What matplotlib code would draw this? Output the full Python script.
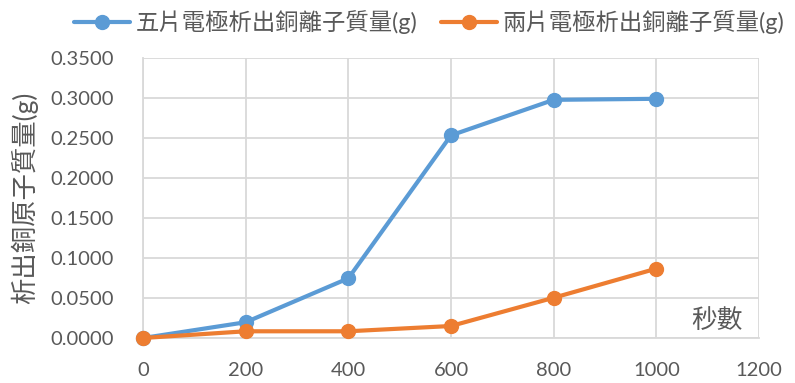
import matplotlib
matplotlib.use("Agg")
import matplotlib.pyplot as plt

plt.rcParams['font.family'] = ['Lato', 'Noto Sans CJK TC', 'DejaVu Sans']

seconds = [0, 200, 400, 600, 800, 1000]
five_plates = [0.0, 0.0197, 0.0746, 0.2533, 0.2977, 0.2990]
two_plates = [0.0, 0.0084, 0.0084, 0.0150, 0.0503, 0.0867]
series_names = ['五片電極析出銅離子質量(g)', '兩片電極析出銅離子質量(g)']
x_ticks = [0, 200, 400, 600, 800, 1000, 1200]
y_ticks = [0.0, 0.05, 0.10, 0.15, 0.20, 0.25, 0.30, 0.35]

blue = '#5B9BD5'
orange = '#ED7D31'
text_col = '#595959'
grid_col = '#D9D9D9'

fig = plt.figure(figsize=(7.95, 3.83), dpi=100)
ax = fig.add_axes([143 / 795, 1 - 338 / 383, (759 - 143) / 795, (338 - 58) / 383])

l1, = ax.plot(seconds, five_plates, color=blue, lw=3, marker='o', ms=10,
              solid_capstyle='round', zorder=3, clip_on=False)
l2, = ax.plot(seconds, two_plates, color=orange, lw=3, marker='o', ms=10,
              solid_capstyle='round', zorder=3, clip_on=False)

ax.set_xlim(0, 1200)
ax.set_ylim(0, 0.35)
ax.set_xticks(x_ticks)
ax.set_yticks(y_ticks)
ax.set_yticklabels([f'{v:.4f}' for v in y_ticks])
ax.grid(True, color=grid_col, lw=1.3, zorder=0)
ax.set_axisbelow(True)
for s in ['top', 'right']:
    ax.spines[s].set_visible(False)
for s in ['left', 'bottom']:
    ax.spines[s].set_color(grid_col)
    ax.spines[s].set_linewidth(1.3)
ax.tick_params(length=0, labelsize=14.5, colors=text_col)
ax.tick_params(axis='y', pad=21)
ax.tick_params(axis='x', pad=17)

ax.set_ylabel('析出銅原子質量(g)', fontsize=19, color=text_col)
ax.yaxis.set_label_coords(-0.17, 0.5)
ax.text(0.974, 0.035, '秒數', transform=ax.transAxes, ha='right', va='baseline',
        fontsize=18.5, color=text_col)

fig.legend([l1, l2], series_names, loc='center', bbox_to_anchor=(0.54, 0.943),
           ncol=2, frameon=False, fontsize=16.8, labelcolor=text_col,
           handlelength=2.4, columnspacing=1.0, handletextpad=0.25,
           borderaxespad=0, borderpad=0)

fig.savefig('out.png', dpi=100)
